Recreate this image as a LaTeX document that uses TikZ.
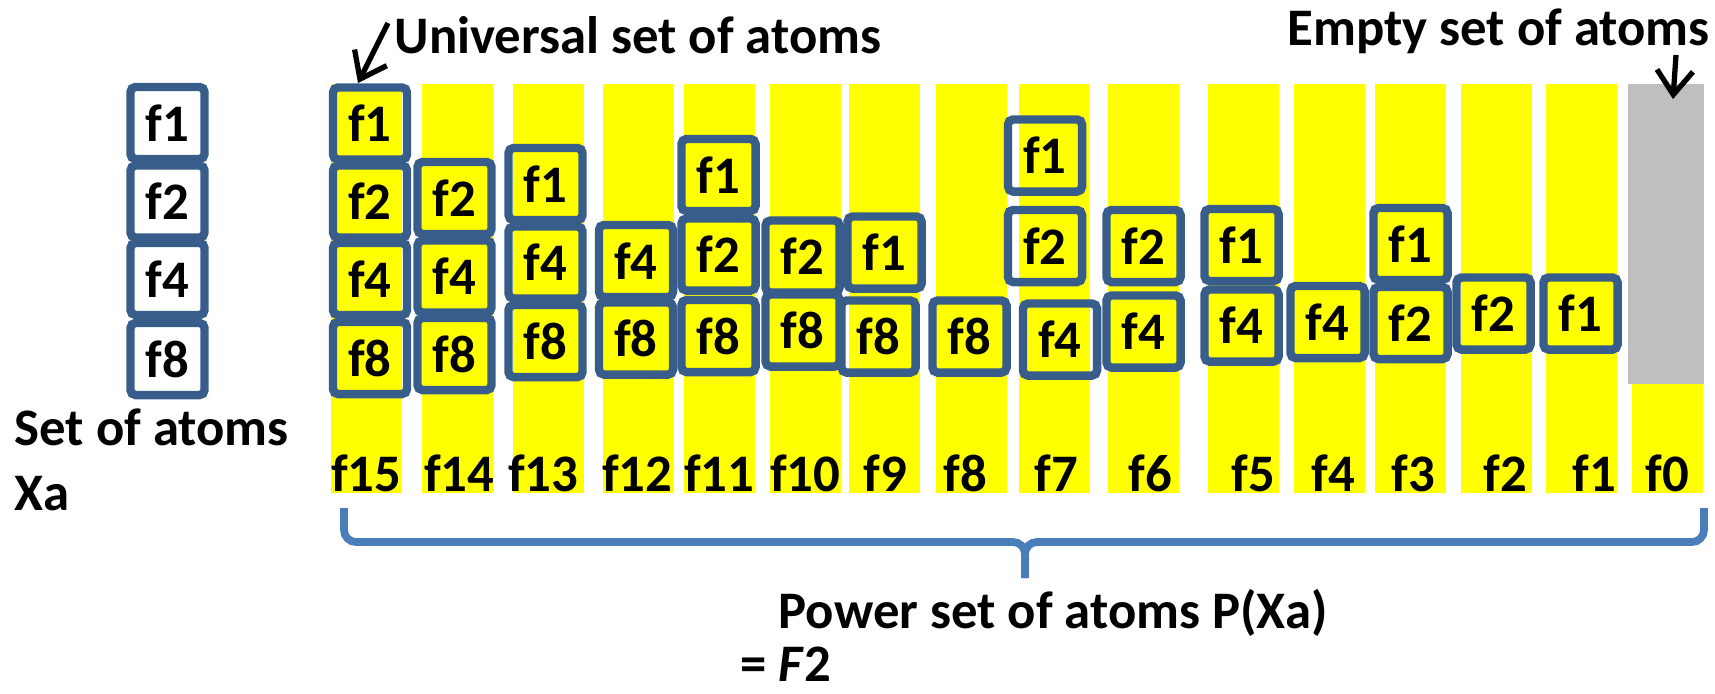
\documentclass[tikz,border=0pt]{standalone}
\usepackage{fontspec}
\setmainfont{Carlito}
\usepackage{tikz}
\usetikzlibrary{arrows.meta}
\definecolor{atomblue}{RGB}{56,93,138}
\definecolor{braceblue}{RGB}{74,126,187}
\definecolor{colyellow}{RGB}{255,255,0}
\definecolor{emptygray}{RGB}{191,191,191}

\begin{document}
\begin{tikzpicture}[x=0.01cm,y=-0.01cm,
    atom/.style={draw=atomblue,line width=2.4pt,rounded corners=0.5mm,minimum width=0.74cm,
      minimum height=0.72cm,inner sep=0pt,font=\bfseries\fontsize{15}{18}\selectfont},
    lbl/.style={inner sep=0pt,font=\bfseries\fontsize{15}{18}\selectfont},
    pointer/.style={line width=1.5pt,-{Straight Barb[length=2.4mm,width=3.6mm]}}]
    \useasboundingbox (0,0) rectangle (1715,693);
    \fill[colyellow] (331,84) rectangle (402,493);
    \fill[colyellow] (422,84) rectangle (493,493);
    \fill[colyellow] (513,84) rectangle (584,493);
    \fill[colyellow] (603,84) rectangle (674,493);
    \fill[colyellow] (684,84) rectangle (755,493);
    \fill[colyellow] (770,84) rectangle (841,493);
    \fill[colyellow] (849,84) rectangle (920,493);
    \fill[colyellow] (936,84) rectangle (1007,493);
    \fill[colyellow] (1019,84) rectangle (1090,493);
    \fill[colyellow] (1108,84) rectangle (1179,493);
    \fill[colyellow] (1208,84) rectangle (1279,493);
    \fill[colyellow] (1294,84) rectangle (1365,493);
    \fill[colyellow] (1375,84) rectangle (1446,493);
    \fill[colyellow] (1461,84) rectangle (1532,493);
    \fill[colyellow] (1546,84) rectangle (1617,493);
    \fill[emptygray] (1628,84) rectangle (1704,384);
    \fill[colyellow] (1632,384) rectangle (1703,493);

    \node[lbl,anchor=base east] (n15) at (402,491) {f15};
    \node[lbl,anchor=base east] (n14) at (495,491) {f14};
    \node[lbl,anchor=base east] (n13) at (579,491) {f13};
    \node[lbl,anchor=base east] (n12) at (673,491) {f12};
    \node[lbl,anchor=base east] (n11) at (755,491) {f11};
    \node[lbl,anchor=base east] (n10) at (841,491) {f10};
    \node[lbl,anchor=base east] (n9) at (908,491) {f9};
    \node[lbl,anchor=base east] (n8) at (988,491) {f8};
    \node[lbl,anchor=base east] (n7) at (1079,491) {f7};
    \node[lbl,anchor=base east] (n6) at (1173,491) {f6};
    \node[lbl,anchor=base east] (n5) at (1276,491) {f5};
    \node[lbl,anchor=base east] (n4) at (1356,491) {f4};
    \node[lbl,anchor=base east] (n3) at (1436,491) {f3};
    \node[lbl,anchor=base east] (n2) at (1528,491) {f2};
    \node[lbl,anchor=base east] (n1) at (1617,491) {f1};
    \node[lbl,anchor=base east] (n0) at (1690,491) {f0};

    \node[atom] (x1) at (167.5,123) {f1};
    \node[atom] (x2) at (167.5,201.5) {f2};
    \node[atom] (x4) at (167.5,279) {f4};
    \node[atom] (x8) at (167.5,359) {f8};
    \node[lbl,anchor=base west] (setx) at (14,445) {Set of atoms};
    \node[lbl,anchor=base west] (xa) at (14,510) {Xa};

    \node[atom] (p15a) at (370,123.5) {f1};
    \node[atom] (p15b) at (370,201.5) {f2};
    \node[atom] (p15c) at (370,279) {f4};
    \node[atom] (p15d) at (370,358) {f8};
    \node[atom] (p14b) at (454.5,198) {f2};
    \node[atom] (p14c) at (454.5,276.5) {f4};
    \node[atom] (p14d) at (454.5,354) {f8};
    \node[atom] (p13a) at (545.5,184) {f1};
    \node[atom] (p13c) at (545.5,262.5) {f4};
    \node[atom] (p13d) at (545.5,341) {f8};
    \node[atom] (p12c) at (636,261) {f4};
    \node[atom] (p12d) at (636,338.5) {f8};
    \node[atom] (p11a) at (718.5,175) {f1};
    \node[atom] (p11b) at (718.5,254.5) {f2};
    \node[atom] (p11d) at (718.5,336) {f8};
    \node[atom] (p10b) at (802.5,256.5) {f2};
    \node[atom] (p10d) at (802.5,330.5) {f8};
    \node[atom] (p9a) at (884.5,252.5) {f1};
    \node[atom] (p9d) at (878.5,336.5) {f8};
    \node[atom] (p8d) at (969.5,336.5) {f8};
    \node[atom] (p7a) at (1045,155.5) {f1};
    \node[atom] (p7b) at (1045,246) {f2};
    \node[atom] (p7c) at (1060,339.5) {f4};
    \node[atom] (p6b) at (1143.5,246) {f2};
    \node[atom] (p6c) at (1143.5,331.5) {f4};
    \node[atom] (p5a) at (1241.5,245) {f1};
    \node[atom] (p5c) at (1241.5,325.5) {f4};
    \node[atom] (p4c) at (1327.5,322) {f4};
    \node[atom] (p3a) at (1410.5,244) {f1};
    \node[atom] (p3b) at (1410.5,323) {f2};
    \node[atom] (p2b) at (1493.5,313.5) {f2};
    \node[atom] (p1a) at (1580.5,313.5) {f1};

    \node[lbl,anchor=base west] (univ) at (394,53) {Universal set of atoms};
    \node[lbl,anchor=base west] (empty) at (1287,45) {Empty set of atoms};
    \coordinate (univfrom) at (388,23);
    \coordinate (univtip) at (358,83);
    \coordinate (emptyfrom) at (1676,55);
    \coordinate (emptytip) at (1673,99);
    \draw[pointer] (univfrom) to (univtip);
    \draw[pointer] (emptyfrom) to (emptytip);

    \coordinate (braceL) at (344,508);
    \coordinate (braceR) at (1704,508);
    \coordinate (braceM) at (1025,542);
    \coordinate (braceTip) at (1025,578);
    \draw[braceblue,line width=2.2pt,rounded corners=1.2mm] (braceL) |- (braceM) -- (braceTip);
    \draw[braceblue,line width=2.2pt,rounded corners=1.2mm] (braceR) |- (braceM) -- (braceTip);
    \node[lbl,anchor=base west] (power) at (778,628) {Power set of atoms P(Xa)};
    \node[lbl,anchor=base west] (ftwo) at (740,681) {= \textit{F}2};
  \end{tikzpicture}
\end{document}
